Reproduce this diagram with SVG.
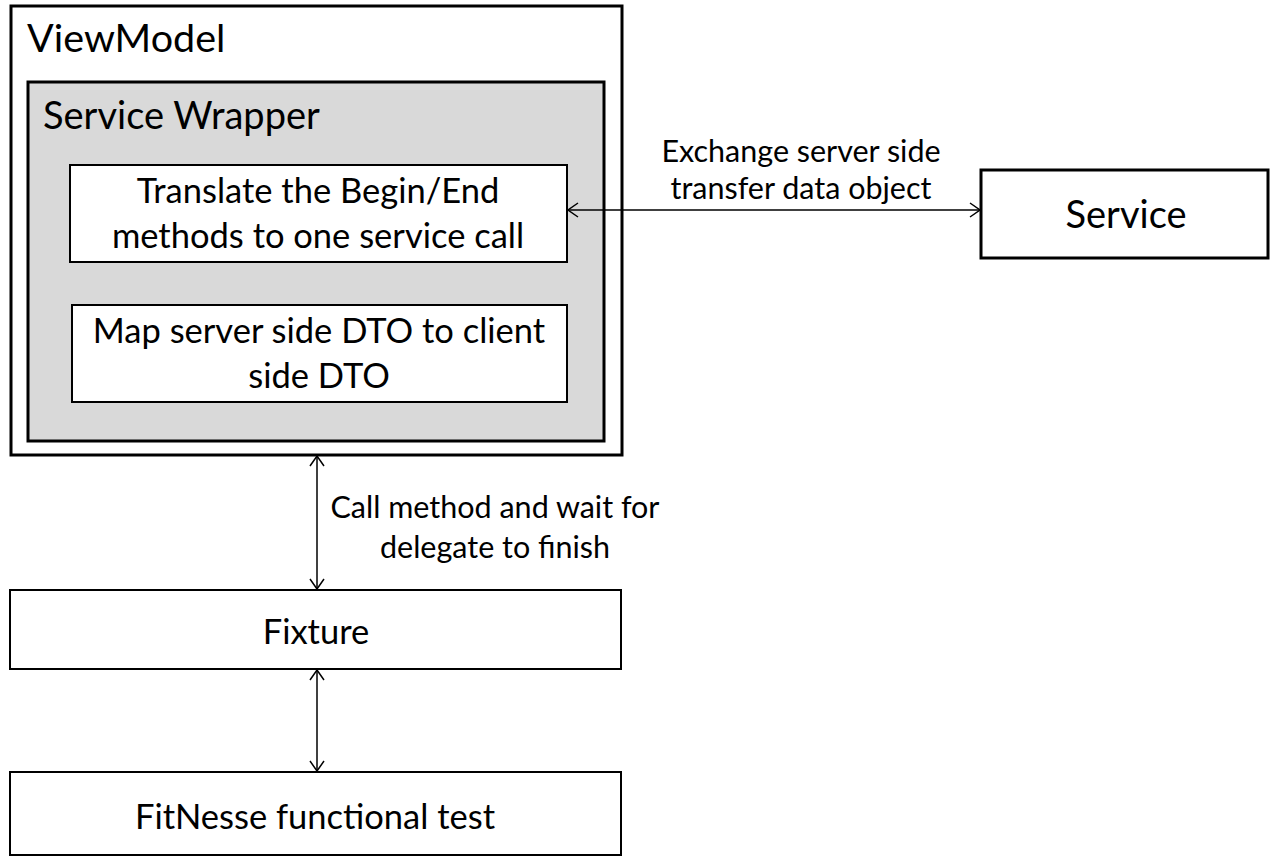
<svg xmlns="http://www.w3.org/2000/svg" width="1275" height="860" viewBox="0 0 1275 860">
<style>
text{font-family:Lato,"Open Sans","Liberation Sans",sans-serif;fill:#000}
.big{font-size:39.5px}
.hdr{font-size:38px}
.mid{font-size:34.5px}
.lbl{font-size:30.5px}
.box{fill:#fff;stroke:#000;stroke-width:3}
.inner{fill:#fff;stroke:#000;stroke-width:2}
.c{text-anchor:middle}
.conn{stroke:#000;stroke-width:1.5;fill:none;marker-start:url(#ah);marker-end:url(#ah)}
</style>
<defs>
<marker id="ah" viewBox="0 0 12 16" refX="11" refY="8" markerWidth="12" markerHeight="16" markerUnits="userSpaceOnUse" orient="auto-start-reverse">
<path d="M1,1 L11,8 L1,15" fill="none" stroke="#000" stroke-width="1.5"/>
</marker>
</defs>
<rect width="1275" height="860" fill="#fff"/>
<g id="viewmodel">
<rect class="box" x="11" y="6" width="611" height="449"/>
<text class="big" x="27" y="52">ViewModel</text>
</g>
<g id="service-wrapper">
<rect class="box" x="28" y="82" width="576" height="359" style="fill:#d9d9d9"/>
<text class="hdr" x="43" y="129">Service Wrapper</text>
</g>
<g id="translate">
<rect class="inner" x="70" y="165" width="497" height="97"/>
<text class="mid c" x="318" y="203">Translate the Begin/End</text>
<text class="mid c" x="318" y="248">methods to one service call</text>
</g>
<g id="map">
<rect class="inner" x="72" y="305" width="495" height="97"/>
<text class="mid c" x="319" y="343">Map server side DTO to client</text>
<text class="mid c" x="319" y="388">side DTO</text>
</g>
<g id="service">
<rect class="box" x="981" y="170" width="287" height="88"/>
<text class="hdr c" x="1126" y="228">Service</text>
</g>
<g id="fixture">
<rect class="inner" x="10" y="590" width="611" height="79"/>
<text class="mid c" x="316" y="644">Fixture</text>
</g>
<g id="fitnesse">
<rect class="inner" x="10" y="772" width="611" height="83"/>
<text class="mid c" x="315" y="829">FitNesse functional test</text>
</g>
<g id="connectors">
<line class="conn" x1="568" y1="210" x2="980" y2="210"/>
<line class="conn" x1="317" y1="456" x2="317" y2="589"/>
<line class="conn" x1="317" y1="670" x2="317" y2="771"/>
<text class="lbl c" x="801" y="162">Exchange server side</text>
<text class="lbl c" x="801" y="199">transfer data object</text>
<text class="lbl c" x="495" y="518">Call method and wait for</text>
<text class="lbl c" x="495" y="558">delegate to finish</text>
</g>
</svg>
